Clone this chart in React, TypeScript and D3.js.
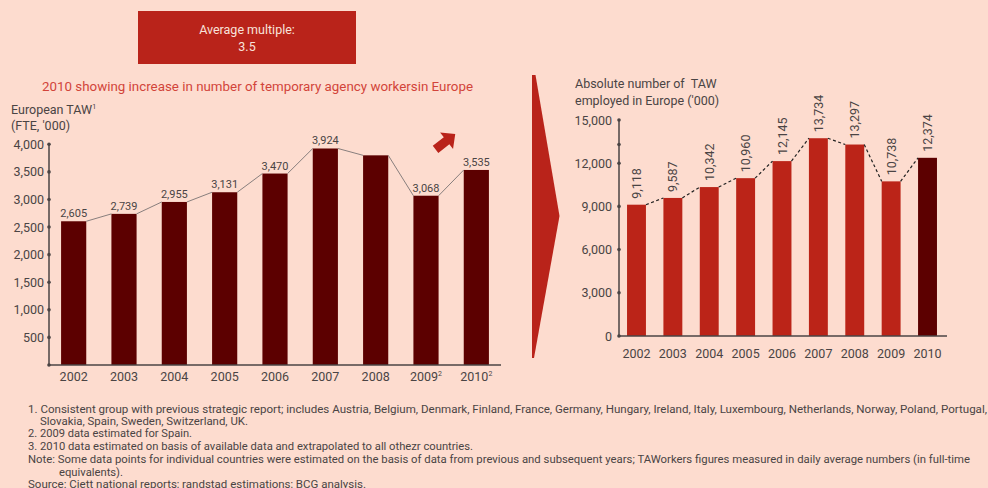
import React from "react";
import * as d3 from "d3";

// European TAW (FTE, '000)
const ftYears = ["2002", "2003", "2004", "2005", "2006", "2007", "2008", "2009", "2010"];
const ftSup = ["", "", "", "", "", "", "", "2", "2"];
const ftValues = [2605, 2739, 2955, 3131, 3470, 3924, 3800, 3068, 3535];
const ftLabelled = [true, true, true, true, true, true, false, true, true];
const ftTicks = [500, 1000, 1500, 2000, 2500, 3000, 3500, 4000];

// Absolute number of TAW employed in Europe ('000)
const absYears = ["2002", "2003", "2004", "2005", "2006", "2007", "2008", "2009", "2010"];
const absValues = [9118, 9587, 10342, 10960, 12145, 13734, 13297, 10738, 12374];
const absTicks = [0, 3000, 6000, 9000, 12000, 15000];
const absMinorTicks = [13300];

const footnotes = [
  { text: "1. Consistent group with previous strategic report; includes Austria, Belgium, Denmark, Finland, France, Germany, Hungary, Ireland, Italy, Luxembourg, Netherlands, Norway, Poland, Portugal,", x: 28, y: 409, w: 959 },
  { text: "Slovakia, Spain, Sweden, Switzerland, UK.", x: 40, y: 421, w: 208 },
  { text: "2. 2009 data estimated for Spain.", x: 28, y: 433, w: 164 },
  { text: "3. 2010 data estimated on basis of available data and extrapolated to all othezr countries.", x: 28, y: 446, w: 445 },
  { text: "Note: Some data points for individual countries were estimated on the basis of data from previous and subsequent years; TAWorkers figures measured in daily average numbers (in full-time", x: 28, y: 459, w: 942 },
  { text: "equivalents).", x: 59, y: 472, w: 64 },
  { text: "Source:  Ciett national reports; randstad estimations; BCG analysis.", x: 28, y: 484, w: 338 },
];

const BG = "#fddccf";
const DARK = "#5c0000";
const RED = "#bb2418";
const TEXT = "#4a4444";
const FONT = "Roboto, 'Open Sans', sans-serif";

export default function App() {
  // left chart scales
  const xL = d3.scaleBand<string>().domain(ftYears).range([48.5, 501.5]).paddingInner(0.5).paddingOuter(0.25);
  const yL = d3.scaleLinear().domain([0, 4000]).range([365, 144.3]);
  // right chart scales
  const xR = d3.scaleBand<string>().domain(absYears).range([618.3, 945.7]).paddingInner(0.48).paddingOuter(0.24);
  const yR = d3.scaleLinear().domain([0, 15000]).range([336, 120]);

  const leftLinePts: [number, number][] = [];
  ftYears.forEach((yr, i) => {
    const x0 = xL(yr)!;
    leftLinePts.push([x0, yL(ftValues[i])], [x0 + xL.bandwidth(), yL(ftValues[i])]);
  });
  const rightLinePts: [number, number][] = [];
  absYears.forEach((yr, i) => {
    const x0 = xR(yr)!;
    rightLinePts.push([x0, yR(absValues[i])], [x0 + xR.bandwidth(), yR(absValues[i])]);
  });

  // small "up" arrow next to the 2010 bar
  const arrowShape: [number, number][] = [
    [-12, -4.5], [2, -4.5], [2, -10.5], [13, 0], [2, 10.5], [2, 4.5], [-12, 4.5],
  ];

  return (
    <svg width={988} height={488} style={{ position: "absolute", left: 0, top: 0, background: BG }} fontFamily={FONT}>
      <rect x={0} y={0} width={988} height={488} fill={BG} />

      {/* headline box */}
      <rect x={138} y={11} width={218} height={53} fill="#b9231a" />
      <text x={247} y={34} textAnchor="middle" fill="#f8e2da" fontSize={12.5}>Average multiple:</text>
      <text x={247} y={51} textAnchor="middle" fill="#f8e2da" fontSize={12.5}>3.5</text>

      <text x={42} y={91} fill="#d2443a" fontSize={12.5} textLength={431} lengthAdjust="spacingAndGlyphs">
        2010 showing increase in number of temporary agency workersin Europe
      </text>

      {/* left chart */}
      <text x={11} y={114} fill={TEXT} fontSize={12.5}>
        European TAW<tspan fontSize={7} dy={-5}>1</tspan>
      </text>
      <text x={11} y={130} fill={TEXT} fontSize={12.5}>(FTE, '000)</text>

      {ftYears.map((yr, i) => (
        <rect key={yr} x={xL(yr)} y={yL(ftValues[i])} width={xL.bandwidth()} height={yL(0) - yL(ftValues[i])} fill={DARK} />
      ))}
      {ftYears.slice(1).map((yr, i) => (
        <line key={yr} x1={leftLinePts[2 * i + 1][0]} y1={leftLinePts[2 * i + 1][1]} x2={leftLinePts[2 * i + 2][0]} y2={leftLinePts[2 * i + 2][1]} stroke="#7a7474" strokeWidth={0.9} />
      ))}
      {ftYears.map((yr, i) =>
        ftLabelled[i] ? (
          <text key={yr} x={xL(yr)! + xL.bandwidth() / 2} y={yL(ftValues[i]) - 4} textAnchor="middle" fill={TEXT} fontSize={11}>
            {d3.format(",")(ftValues[i])}
          </text>
        ) : null
      )}
      <line x1={49} x2={49} y1={yL(4000)} y2={yL(0)} stroke={TEXT} strokeWidth={1.5} />
      <line x1={49} x2={501} y1={yL(0)} y2={yL(0)} stroke={TEXT} strokeWidth={1.5} />
      <circle cx={49} cy={yL(0)} r={1.8} fill={TEXT} />
      {ftTicks.map((t) => (
        <g key={t}>
          <circle cx={49} cy={yL(t)} r={1.8} fill={TEXT} />
          <text x={44} y={yL(t) + 4.5} textAnchor="end" fill={TEXT} fontSize={12.5}>{d3.format(",")(t)}</text>
        </g>
      ))}
      {ftYears.map((yr, i) => (
        <text key={yr} x={xL(yr)! + xL.bandwidth() / 2} y={380.5} textAnchor="middle" fill={TEXT} fontSize={12.5}>
          {yr}
          {ftSup[i] ? <tspan fontSize={7} dy={-5}>{ftSup[i]}</tspan> : null}
        </text>
      ))}
      <polygon
        points={arrowShape.map((p) => p.join(",")).join(" ")}
        transform="translate(445,142) rotate(-38)"
        fill="#b9231a"
      />

      {/* transition chevron */}
      <polygon points="532,75 535.5,75 559.5,216 534,358 532,358" fill="#b9231a" />

      {/* right chart */}
      <text x={575} y={88} fill={TEXT} fontSize={12.5} style={{ whiteSpace: "pre" }}>Absolute number of  TAW</text>
      <text x={575} y={105} fill={TEXT} fontSize={12.5}>employed in Europe ('000)</text>

      {absYears.map((yr, i) => (
        <rect key={yr} x={xR(yr)} y={yR(absValues[i])} width={xR.bandwidth()} height={yR(0) - yR(absValues[i])} fill={i === absYears.length - 1 ? DARK : RED} />
      ))}
      {absYears.slice(1).map((yr, i) => (
        <line key={yr} x1={rightLinePts[2 * i + 1][0]} y1={rightLinePts[2 * i + 1][1]} x2={rightLinePts[2 * i + 2][0]} y2={rightLinePts[2 * i + 2][1]} stroke="#222" strokeWidth={1.2} strokeDasharray="3,2.5" />
      ))}
      {absYears.map((yr, i) => {
        const cx = xR(yr)! + xR.bandwidth() / 2 + 4.5;
        const cy = yR(absValues[i]) - 6;
        return (
          <text key={yr} transform={`translate(${cx},${cy}) rotate(-90)`} fill={TEXT} fontSize={12.5}>
            {d3.format(",")(absValues[i])}
          </text>
        );
      })}
      <line x1={619} x2={619} y1={yR(15000)} y2={yR(0)} stroke={TEXT} strokeWidth={1.5} />
      <line x1={619} x2={947} y1={yR(0)} y2={yR(0)} stroke={TEXT} strokeWidth={1.5} />
      {absTicks.map((t) => (
        <g key={t}>
          <circle cx={619} cy={yR(t)} r={1.8} fill={TEXT} />
          <text x={612} y={yR(t) + 4.5} textAnchor="end" fill={TEXT} fontSize={12.5}>{d3.format(",")(t)}</text>
        </g>
      ))}
      {absMinorTicks.map((t) => (
        <circle key={t} cx={619} cy={yR(t)} r={1.8} fill={TEXT} />
      ))}
      {absYears.map((yr) => (
        <text key={yr} x={xR(yr)! + xR.bandwidth() / 2} y={357.5} textAnchor="middle" fill={TEXT} fontSize={12.5}>{yr}</text>
      ))}

      {/* footnotes */}
      {footnotes.map((f, i) => (
        <text key={i} x={f.x} y={f.y + 3.5} fill={TEXT} fontSize={10} textLength={f.w} lengthAdjust="spacingAndGlyphs">
          {f.text}
        </text>
      ))}
    </svg>
  );
}
